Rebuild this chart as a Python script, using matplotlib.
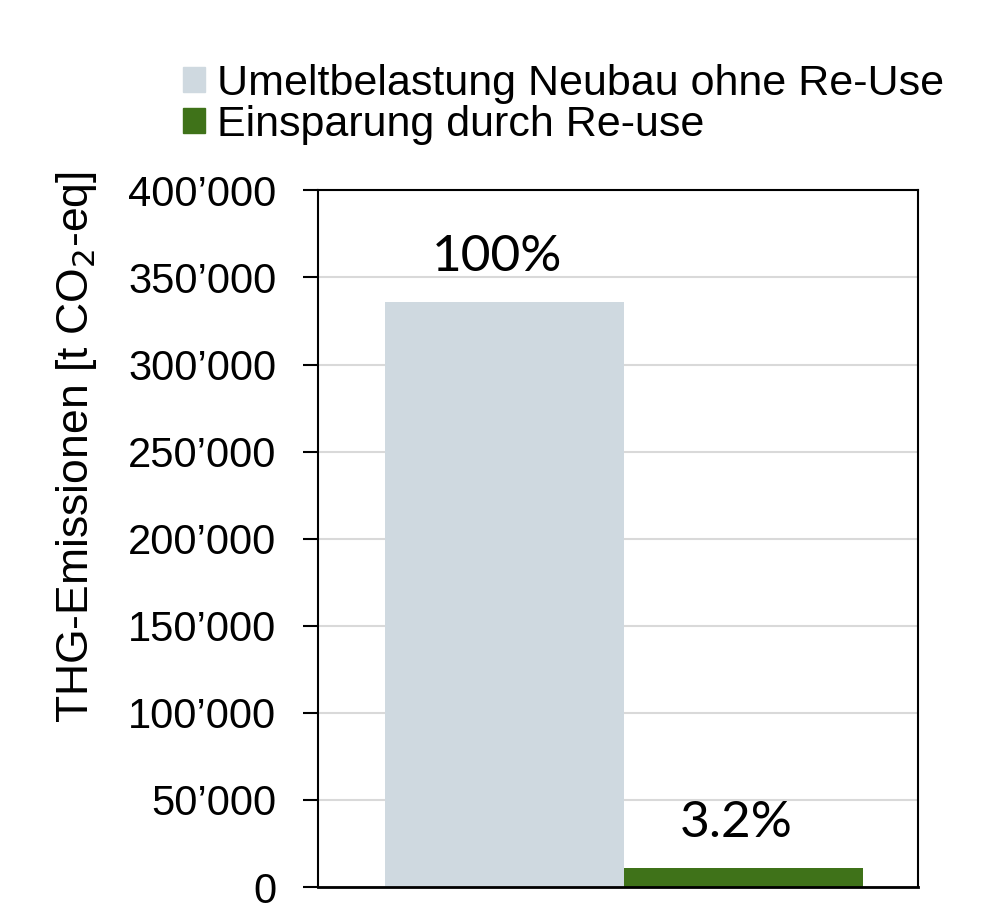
import matplotlib.pyplot as plt
from matplotlib.patches import Patch
from matplotlib.ticker import FuncFormatter

# Daten
kategorien = ['Neubau', 'Re-use']
werte = [336000, 10750]
anteile = ['100%', '3.2%']
legende = ['Umeltbelastung Neubau ohne Re-Use', 'Einsparung durch Re-use']
farben = ['#CFD9E0', '#3F7219']

plt.rcParams['font.family'] = ['Liberation Sans', 'DejaVu Sans']

fig = plt.figure(figsize=(10, 9.24), dpi=100)
ax = fig.add_axes([0.318, 0.040, 0.600, 0.754])

x = list(range(len(kategorien)))
ax.bar(x, werte, width=1.0, color=farben, zorder=2)

for xi, w, txt in zip(x, werte, anteile):
    ax.annotate(txt, (xi - 0.03, w), xytext=(0, 16), textcoords='offset points',
                ha='center', va='bottom', fontsize=37, family=['Lato', 'DejaVu Sans'])

ax.set_xlim(-0.78, 1.73)
ax.set_ylim(0, 400000)
ax.set_yticks(range(0, 400001, 50000))
ax.yaxis.set_major_formatter(FuncFormatter(lambda v, p: f'{int(v):,}'.replace(',', '\u2019')))
ax.set_xticks([])
ax.tick_params(axis='y', labelsize=30, length=11, width=1.5, pad=19)
ax.grid(axis='y', color='#D9D9D9', linewidth=1.5, zorder=0)
for s in ax.spines.values():
    s.set_linewidth(1.5)
ax.spines['bottom'].set_linewidth(2)

# Achsentitel etwas oberhalb der Mitte, wie im Original
fig.text(0.077, 0.516, 'THG-Emissionen [t CO$_2$-eq]', rotation=90,
         ha='center', va='center', fontsize=32)

handles = [Patch(color=c) for c in farben]
fig.legend(handles, legende, loc='upper left', bbox_to_anchor=(0.183, 0.931),
           frameon=False, fontsize=31, handlelength=0.51, handleheight=0.51,
           handletextpad=0.28, labelspacing=0.03, borderpad=0, borderaxespad=0)

plt.savefig('out.png', dpi=100)
